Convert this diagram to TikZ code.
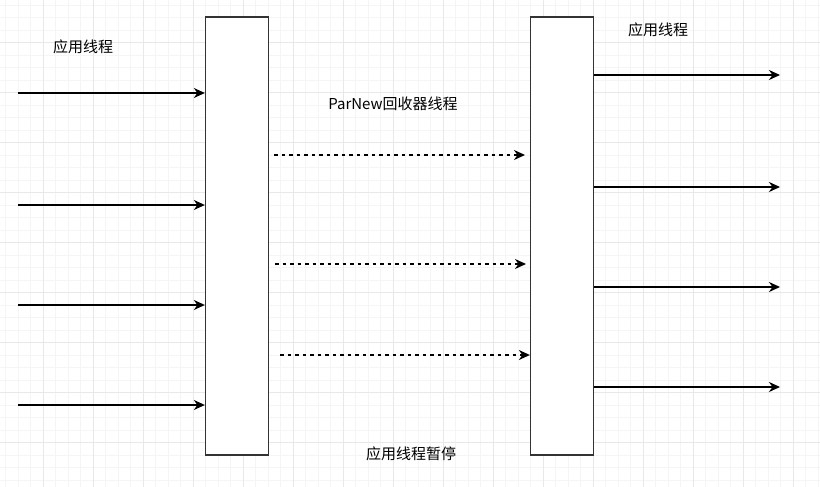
\documentclass[tikz,border=0pt]{standalone}
\usepackage{fontspec}
\setmainfont{Noto Sans CJK SC}
\usetikzlibrary{arrows.meta}
\begin{document}
\begin{tikzpicture}[x=1pt,y=-1pt,
  lbl/.style={font=\fontsize{15}{17}\selectfont, inner sep=0pt, anchor=center},
  bar/.style={draw=black!80, line width=1.3pt, fill=white, minimum width=63pt, minimum height=438pt, inner sep=0pt},
  flow/.style={line width=1.25pt, -{Stealth[length=11pt,width=10pt,inset=3.5pt]}},
  gcflow/.style={flow, dash pattern=on 3.75pt off 3.75pt}]
  % canvas and grid
  \useasboundingbox (0,0) rectangle (820,487);
  \fill[white] (0,0) rectangle (820,487);
  \begin{scope}
    \clip (0,0) rectangle (820,487);
    \foreach \k in {0,...,66} {
      \draw[line width=0.8pt, color=black!4] ({5.8+12.5*\k},0) -- ({5.8+12.5*\k},487);
    }
    \foreach \k in {0,...,39} {
      \draw[line width=0.8pt, color=black!4] (0,{5.2+12.5*\k}) -- (820,{5.2+12.5*\k});
    }
    \foreach \k in {0,...,16} {
      \draw[line width=0.9pt, color=black!9] ({43.3+50*\k},0) -- ({43.3+50*\k},487);
    }
    \foreach \k in {0,...,9} {
      \draw[line width=0.9pt, color=black!9] (0,{42.7+50*\k}) -- (820,{42.7+50*\k});
    }
  \end{scope}

  % the two thread bars
  \node[bar] (L) at (237,236) {};
  \node[bar] (R) at (562,236) {};

  % labels
  \node[lbl] (t1) at (83,47) {应用线程};
  \node[lbl] (t2) at (658,30) {应用线程};
  \node[lbl] (t3) at (393,104) {ParNew回收器线程};
  \node[lbl] (t4) at (411,454) {应用线程暂停};

  % incoming application threads
  \foreach \y [count=\i] in {93,205,305,405} {
    \coordinate (in\i) at (18,\y);
    \draw[flow] (in\i) -- (L.west |- in\i);
  }

  % collector threads
  \coordinate (g1s) at (274,155);  \coordinate (g1e) at (525,155);
  \coordinate (g2s) at (275,264);  \coordinate (g2e) at (526,264);
  \coordinate (g3s) at (280,355);  \coordinate (g3e) at (531,355);
  \draw[gcflow] (g1s) -- (g1e);
  \draw[gcflow] (g2s) -- (g2e);
  \draw[gcflow] (g3s) -- (R.west |- g3e);

  % resumed application threads
  \foreach \y [count=\i] in {75,187,287,387} {
    \coordinate (out\i) at (780,\y);
    \draw[flow] (R.east |- out\i) -- (out\i);
  }
\end{tikzpicture}
\end{document}
